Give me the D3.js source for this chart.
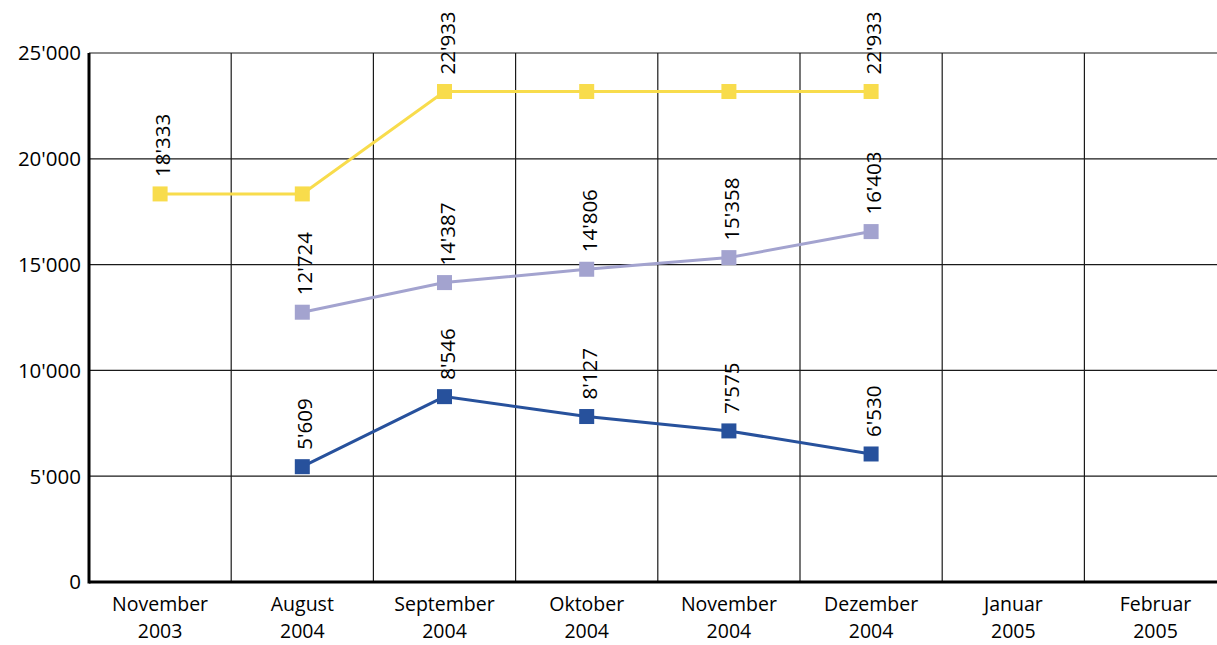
<!DOCTYPE html>
<html>
<head>
<meta charset="utf-8">
<script src="https://cdn.jsdelivr.net/npm/d3@7"></script>
<style>
  html, body { margin: 0; padding: 0; background: #fff; }
  svg { display: block; font-family: "Open Sans", "Noto Sans", sans-serif; }
</style>
</head>
<body>
<div id="chart"></div>
<script>
// categories (two-line labels)
const months = ["November", "August", "September", "Oktober", "November", "Dezember", "Januar", "Februar"];
const years = ["2003", "2004", "2004", "2004", "2004", "2004", "2005", "2005"];

// series values as drawn in the picture (null = no point)
const yellowValues = [18340, 18340, 23180, 23180, 23180, 23180, null, null];
const purpleValues = [null, 12750, 14150, 14780, 15330, 16560, null, null];
const blueValues = [null, 5450, 8760, 7820, 7140, 6050, null, null];

// value labels printed above the markers
const yellowLabels = ["18'333", null, "22'933", null, null, "22'933", null, null];
const purpleLabels = [null, "12'724", "14'387", "14'806", "15'358", "16'403", null, null];
const blueLabels = [null, "5'609", "8'546", "8'127", "7'575", "6'530", null, null];

const yTicks = [0, 5000, 10000, 15000, 20000, 25000];

const W = 1217, H = 645;
const margin = { top: 53, left: 89, bottom: 63 };
const band = 142.2;
const plotW = band * months.length;
const plotH = H - margin.top - margin.bottom;
const fs = "20.5px";

const svg = d3.select("#chart").append("svg")
    .attr("width", W)
    .attr("height", H);

const g = svg.append("g")
    .attr("transform", `translate(${margin.left},${margin.top})`);

const x = d3.scaleBand()
    .domain(d3.range(months.length))
    .range([0, plotW]);

const y = d3.scaleLinear()
    .domain([0, 25000])
    .range([plotH, 0]);

const fmt = v => v === 0 ? "0" : d3.format(",")(v).replace(/,/g, "'");

// horizontal grid
g.selectAll(".hgrid")
    .data(yTicks.filter(d => d > 0))
    .join("line")
    .attr("x1", 0).attr("x2", plotW)
    .attr("y1", d => y(d)).attr("y2", d => y(d))
    .attr("stroke", "#1a1a1a")
    .attr("stroke-width", 1.2);

// vertical grid
g.selectAll(".vgrid")
    .data(d3.range(1, months.length))
    .join("line")
    .attr("x1", d => x(d)).attr("x2", d => x(d))
    .attr("y1", 0).attr("y2", plotH)
    .attr("stroke", "#1a1a1a")
    .attr("stroke-width", 1.2);

// axes
g.append("line")
    .attr("x1", 0).attr("x2", 0)
    .attr("y1", 0).attr("y2", plotH + 1.5)
    .attr("stroke", "#000").attr("stroke-width", 3);
g.append("line")
    .attr("x1", 0).attr("x2", plotW)
    .attr("y1", plotH).attr("y2", plotH)
    .attr("stroke", "#000").attr("stroke-width", 3);

// y tick labels
g.selectAll(".ytick")
    .data(yTicks)
    .join("text")
    .attr("x", -8)
    .attr("y", d => y(d))
    .attr("dy", "0.36em")
    .attr("text-anchor", "end")
    .style("font-size", fs)
    .attr("fill", "#000")
    .text(fmt);

// x labels, month line and year line
g.selectAll(".xmonth")
    .data(months)
    .join("text")
    .attr("x", (d, i) => x(i) + x.bandwidth() / 2)
    .attr("y", plotH + 28.5)
    .attr("text-anchor", "middle")
    .style("font-size", "19.5px")
    .attr("fill", "#000")
    .text(d => d);
g.selectAll(".xyear")
    .data(years)
    .join("text")
    .attr("x", (d, i) => x(i) + x.bandwidth() / 2)
    .attr("y", plotH + 55.5)
    .attr("text-anchor", "middle")
    .style("font-size", "19.5px")
    .attr("fill", "#000")
    .text(d => d);

const series = [
    { values: yellowValues, labels: yellowLabels, color: "#f8dc4c" },
    { values: purpleValues, labels: purpleLabels, color: "#a3a3cf" },
    { values: blueValues, labels: blueLabels, color: "#27519c" }
];

const line = d3.line()
    .defined(d => d.v != null)
    .x(d => x(d.i) + x.bandwidth() / 2)
    .y(d => y(d.v));

series.forEach(s => {
    const pts = s.values.map((v, i) => ({ v, i, label: s.labels[i] }));
    g.append("path")
        .datum(pts)
        .attr("fill", "none")
        .attr("stroke", s.color)
        .attr("stroke-width", 3)
        .attr("d", line);

    const sz = 15;
    g.selectAll(null)
        .data(pts.filter(d => d.v != null))
        .join("rect")
        .attr("x", d => x(d.i) + x.bandwidth() / 2 - sz / 2)
        .attr("y", d => y(d.v) - sz / 2)
        .attr("width", sz)
        .attr("height", sz)
        .attr("fill", s.color);

    g.selectAll(null)
        .data(pts.filter(d => d.v != null && d.label))
        .join("text")
        .attr("transform", d => `translate(${x(d.i) + x.bandwidth() / 2 + 10},${y(d.v) - 17}) rotate(-90)`)
        .attr("text-anchor", "start")
        .style("font-size", fs)
        .attr("fill", "#000")
        .text(d => d.label);
});
</script>
</body>
</html>
